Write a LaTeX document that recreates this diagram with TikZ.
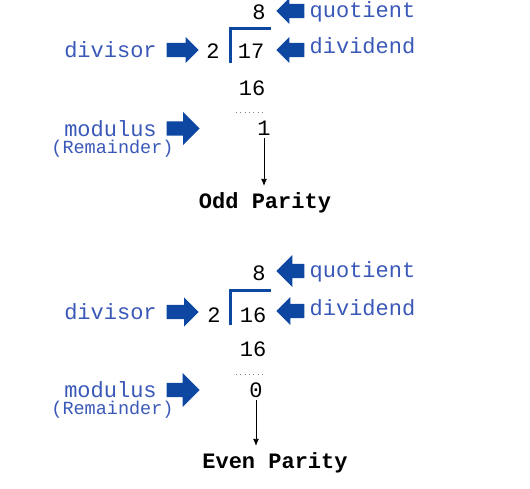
\documentclass[tikz,border=0pt]{standalone}
\usepackage{fontspec}
\newfontfamily\cour{Liberation Mono}
\usepackage{tikz}
\usetikzlibrary{arrows.meta,shapes.arrows,positioning}
\usepackage{xcolor}
\definecolor{labelblue}{RGB}{58,88,184}
\definecolor{arrowblue}{RGB}{13,71,161}

\begin{document}
\begin{tikzpicture}[x=1pt,y=-1pt,
  num/.style={font=\cour\fontsize{22}{24}\selectfont, text=black, anchor=base, inner sep=3pt},
  lbl/.style={font=\cour\fontsize{22}{24}\selectfont, text=labelblue, anchor=base, inner sep=0pt},
  smalllbl/.style={font=\cour\fontsize{18.5}{20}\selectfont, text=labelblue, anchor=base, inner sep=0pt},
  parity/.style={font=\cour\bfseries\fontsize{22}{24}\selectfont, anchor=base, inner ysep=6pt},
  fatarrow/.style={single arrow, fill=arrowblue, inner xsep=0pt, inner ysep=7pt, minimum width=0pt, anchor=tip},
  bracket/.style={draw=arrowblue, line width=3pt},
  dotline/.style={draw=gray, line width=0.7pt, dash pattern=on 1pt off 3.3pt}]
  \useasboundingbox (0,0) rectangle (530,488);

  % Odd example
  \node[num] (q1) at (259,19) {8};
  \node[num] (d1) at (213,58) {2};
  \node[num] (n1) at (251,58) {17};
  \node[num] (p1) at (252,95) {16};
  \node[num] (r1) at (264,135) {1};
  \draw[bracket] (230,63) -- (230,28) -- (271,28);
  \draw[dotline] (236,112) -- (263,112);

  \node[lbl] (quot1) at (362.5,17) {quotient};
  \node[lbl] (divd1) at (362.5,53) {dividend};
  \node[lbl] (divs1) at (110.5,57) {divisor};
  \node[lbl] (mod1) at (110.5,136) {modulus};
  \node[smalllbl] (rem1) at (112.5,153) {(Remainder)};

  \node[fatarrow, shape border rotate=180, minimum height=28pt, single arrow head extend=6pt] (qa1) at (276,11) {};
  \node[fatarrow, shape border rotate=180, minimum height=28pt, single arrow head extend=6pt] (na1) at (276,50) {};
  \node[fatarrow, minimum height=32pt, single arrow head extend=6pt] (da1) at (199,50) {};
  \node[fatarrow, minimum height=33pt, single arrow head extend=9.5pt] (ma1) at (200,128.5) {};

  \node[parity] (odd) at (265,208) {Odd Parity};
  \draw[line width=0.8pt, -{Latex[length=7pt,width=6pt]}] (r1.south) -- (r1.south |- odd.north);

  % Even example
  \node[num] (q2) at (259,280) {8};
  \node[num] (d2) at (214,322) {2};
  \node[num] (n2) at (253,322) {16};
  \node[num] (p2) at (253,356) {16};
  \node[num] (r2) at (256,397) {0};
  \draw[bracket] (230,325) -- (230,290) -- (271,290);
  \draw[dotline] (236,374) -- (263,374);

  \node[lbl] (quot2) at (362.5,277) {quotient};
  \node[lbl] (divd2) at (362.5,315) {dividend};
  \node[lbl] (divs2) at (110.5,319) {divisor};
  \node[lbl] (mod2) at (110.5,397) {modulus};
  \node[smalllbl] (rem2) at (112.5,414) {(Remainder)};

  \node[fatarrow, shape border rotate=180, minimum height=28pt, single arrow head extend=9pt] (qa2) at (276,271) {};
  \node[fatarrow, shape border rotate=180, minimum height=28pt, single arrow head extend=7pt] (na2) at (276,311) {};
  \node[fatarrow, minimum height=32pt, single arrow head extend=7.5pt] (da2) at (199,312) {};
  \node[fatarrow, minimum height=33pt, single arrow head extend=10pt] (ma2) at (200,390) {};

  \node[parity] (even) at (275,468) {Even Parity};
  \draw[line width=0.8pt, -{Latex[length=7pt,width=6pt]}] (r2.south) -- (r2.south |- even.north);
\end{tikzpicture}
\end{document}
